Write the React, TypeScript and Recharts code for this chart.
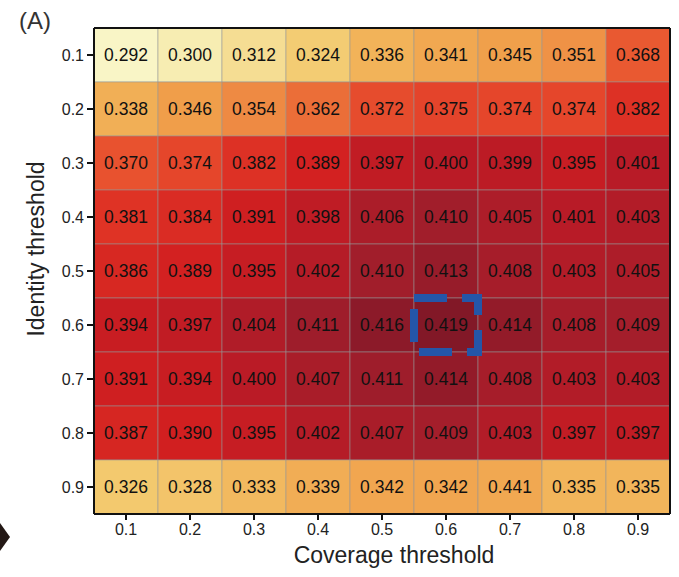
import { BarChart, Bar, XAxis, YAxis, Cell, LabelList } from 'recharts'

const COVERAGE = ['0.1', '0.2', '0.3', '0.4', '0.5', '0.6', '0.7', '0.8', '0.9']
const IDENTITY = ['0.1', '0.2', '0.3', '0.4', '0.5', '0.6', '0.7', '0.8', '0.9']

// one row per identity threshold, columns follow COVERAGE
const ROW_01 = [0.292, 0.300, 0.312, 0.324, 0.336, 0.341, 0.345, 0.351, 0.368]
const ROW_02 = [0.338, 0.346, 0.354, 0.362, 0.372, 0.375, 0.374, 0.374, 0.382]
const ROW_03 = [0.370, 0.374, 0.382, 0.389, 0.397, 0.400, 0.399, 0.395, 0.401]
const ROW_04 = [0.381, 0.384, 0.391, 0.398, 0.406, 0.410, 0.405, 0.401, 0.403]
const ROW_05 = [0.386, 0.389, 0.395, 0.402, 0.410, 0.413, 0.408, 0.403, 0.405]
const ROW_06 = [0.394, 0.397, 0.404, 0.411, 0.416, 0.419, 0.414, 0.408, 0.409]
const ROW_07 = [0.391, 0.394, 0.400, 0.407, 0.411, 0.414, 0.408, 0.403, 0.403]
const ROW_08 = [0.387, 0.390, 0.395, 0.402, 0.407, 0.409, 0.403, 0.397, 0.397]
const ROW_09 = [0.326, 0.328, 0.333, 0.339, 0.342, 0.342, 0.441, 0.335, 0.335]
const ROWS = [ROW_01, ROW_02, ROW_03, ROW_04, ROW_05, ROW_06, ROW_07, ROW_08, ROW_09]

// the figure prints 0.441 here but shades the cell like ~0.341 (a typo in the source)
const SHADE_FIX: Record<string, number> = { '0.9|0.7': 0.341 }

// highlighted cell
const BEST = { identity: '0.6', coverage: '0.6' }

const STOPS: [number, string][] = [
  [0.29, '#F9F7CB'],
  [0.30, '#F7EDB2'],
  [0.31, '#F5E098'],
  [0.325, '#F3CB70'],
  [0.335, '#F2B55B'],
  [0.345, '#F0A04B'],
  [0.355, '#EE8842'],
  [0.362, '#EB6E38'],
  [0.37, '#E8522F'],
  [0.38, '#E03526'],
  [0.39, '#D11F20'],
  [0.40, '#BA1B26'],
  [0.41, '#A11E2B'],
  [0.42, '#7E1727'],
]

function hex(c: string) {
  return [1, 3, 5].map((i) => parseInt(c.slice(i, i + 2), 16))
}

function shade(v: number) {
  if (v <= STOPS[0][0]) return STOPS[0][1]
  for (let i = 1; i < STOPS.length; i++) {
    const [v1, c1] = STOPS[i]
    const [v0, c0] = STOPS[i - 1]
    if (v <= v1) {
      const t = (v - v0) / (v1 - v0)
      const a = hex(c0)
      const b = hex(c1)
      const m = a.map((x, k) => Math.round(x + (b[k] - x) * t))
      return `rgb(${m[0]},${m[1]},${m[2]})`
    }
  }
  return STOPS[STOPS.length - 1][1]
}

const data = IDENTITY.map((id, r) => {
  const row: Record<string, string | number> = { identity: id }
  COVERAGE.forEach((_, c) => {
    row[`c${c}`] = 1
    row[`v${c}`] = ROWS[r][c].toFixed(3)
  })
  return row
})

const FONT = '"Liberation Sans", Arial, Helvetica, sans-serif'
const W = 679
const H = 577
const MARGIN = { top: 28, right: 9, left: 44, bottom: 0 }
// overlay keeps the same plot area, with 1px thin top/right axes carrying the frame
const OVERLAY_MARGIN = { top: 27, right: 8, left: 44, bottom: 0 }
const Y_W = 50
const X_H = 63
const FRAME = { stroke: '#111', strokeWidth: 2 }

export default function App() {
  const bestCol = COVERAGE.indexOf(BEST.coverage)
  return (
    <div style={{ position: 'absolute', left: 0, top: 0, width: W, height: H, background: '#fff', fontFamily: FONT }}>
      <BarChart width={W} height={H} data={data} layout="vertical" barCategoryGap={0} barGap={0} margin={MARGIN}>
        <XAxis
          type="number"
          domain={[0, COVERAGE.length]}
          ticks={COVERAGE.map((_, i) => i + 0.5)}
          tickFormatter={(v: number) => COVERAGE[Math.floor(v)]}
          axisLine={false}
          tickLine={FRAME}
          tickSize={6}
          tickMargin={4}
          height={X_H}
          tick={{ fill: '#222', fontSize: 16, fontFamily: FONT }}
        />
        <YAxis
          type="category"
          dataKey="identity"
          axisLine={false}
          tickLine={FRAME}
          tickSize={7}
          tickMargin={3}
          width={Y_W}
          tick={{ fill: '#222', fontSize: 16, fontFamily: FONT }}
        />
        {COVERAGE.map((cov, c) => (
          <Bar key={cov} dataKey={`c${c}`} stackId="grid" isAnimationActive={false}>
            {IDENTITY.map((id, r) => (
              <Cell
                key={id}
                fill={shade(SHADE_FIX[`${id}|${cov}`] ?? ROWS[r][c])}
                stroke="rgba(150,150,150,0.55)"
                strokeWidth={1}
              />
            ))}
            <LabelList dataKey={`v${c}`} position="center" fill="#111" fontSize={17.5} fontFamily={FONT} />
          </Bar>
        ))}
      </BarChart>

      {/* same geometry on top: frame and highlighted cell */}
      <div style={{ position: 'absolute', left: 0, top: 0, pointerEvents: 'none' }}>
        <BarChart width={W} height={H} data={data} layout="vertical" barCategoryGap={0} barGap={0} margin={OVERLAY_MARGIN}>
          <XAxis type="number" domain={[0, COVERAGE.length]} height={X_H} axisLine={FRAME} tick={false} tickLine={false} />
          <XAxis xAxisId="top" orientation="top" type="number" domain={[0, COVERAGE.length]} height={1} axisLine={FRAME} tick={false} tickLine={false} />
          <YAxis type="category" dataKey="identity" width={Y_W} axisLine={FRAME} tick={false} tickLine={false} />
          <YAxis yAxisId="right" orientation="right" type="category" dataKey="identity" width={1} axisLine={FRAME} tick={false} tickLine={false} />
          <Bar dataKey={() => [bestCol, bestCol + 1]} isAnimationActive={false}>
            {IDENTITY.map((id) => (
              <Cell
                key={id}
                fill="none"
                stroke={id === BEST.identity ? '#2456A8' : 'none'}
                strokeWidth={8}
                strokeDasharray="33 15"
              />
            ))}
          </Bar>
        </BarChart>
      </div>

      <svg width={W} height={H} style={{ position: 'absolute', left: 0, top: 0, pointerEvents: 'none' }}>
        <text x={19} y={29} fontSize={24} fill="#333" fontFamily={FONT}>(A)</text>
        <text
          x={36}
          y={249}
          fontSize={23}
          fill="#222"
          fontFamily={FONT}
          textAnchor="middle"
          dy="0.35em"
          transform="rotate(-90 36 249)"
        >
          Identity threshold
        </text>
        <text x={394} y={563} fontSize={23} fill="#222" fontFamily={FONT} textAnchor="middle">
          Coverage threshold
        </text>
        <polygon points="0,523 10,537 0,551" fill="#231815" />
      </svg>
    </div>
  )
}
